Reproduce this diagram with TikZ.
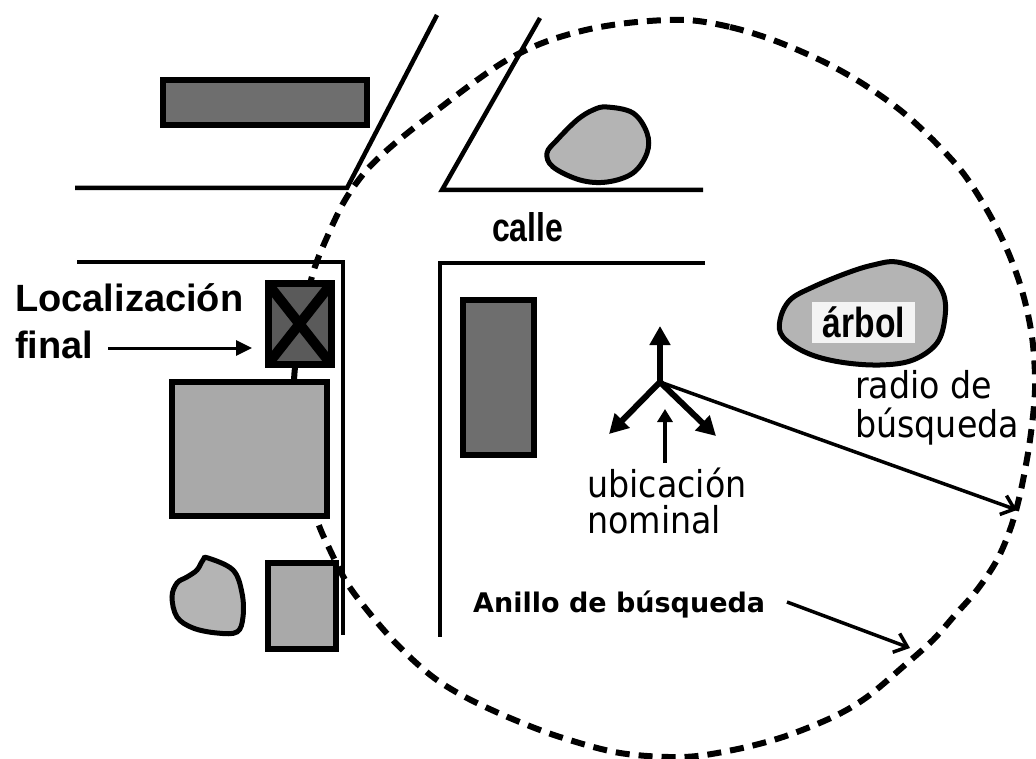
\documentclass[tikz,border=0pt]{standalone}
\usepackage{fontspec}
\setmainfont{Liberation Sans}
\newfontfamily\thinfont{DejaVu Sans}[FakeStretch=0.9]
\newfontfamily\condfont{Liberation Sans}[FakeStretch=0.8]
\newfontfamily\ringfont{DejaVu Sans}
\usetikzlibrary{arrows.meta}
\definecolor{darkbldg}{HTML}{6E6E6E}
\definecolor{lightbldg}{HTML}{A9A9A9}
\definecolor{treegray}{HTML}{B4B4B4}
\definecolor{xgray}{HTML}{5A5A5A}
\definecolor{labelbg}{HTML}{F4F4F4}
\tikzset{
  road/.style={line width=4.5pt, line join=miter},
  bldgdark/.style={fill=darkbldg, draw=black, line width=6pt},
  bldglight/.style={fill=lightbldg, draw=black, line width=6pt},
  treeblob/.style={fill=treegray, draw=black, line width=5pt},
  ring/.style={line width=6pt, dash pattern=on 14pt off 9pt},
  fatarrow/.style={line width=6pt, -{Triangle[length=19pt,width=20pt]}},
  smallarrow/.style={line width=4pt, -{Triangle[length=13pt,width=15pt]}},
  thinarrow/.style={line width=3.5pt, -{Straight Barb[length=12pt,width=20pt]}},
  ptrarrow/.style={line width=3pt, -{Triangle[length=16pt,width=15pt]}},
  lbl/.style={inner sep=0pt, anchor=base west},
}
\begin{document}
\begin{tikzpicture}[x=1pt,y=-1pt]
\useasboundingbox[fill=white] (0,0) rectangle (1036,759);

% search ring (drawn first, buildings cover it)
\draw[ring] plot[smooth cycle, tension=0.55] coordinates {
 (687,20) (730,27) (773,40) (820,60) (860,82) (900,110) (933,140) (963,173)
 (987,210) (1005,245) (1018,278) (1027,310) (1033,345) (1035,390) (1030,440)
 (1021,490) (1011,527) (997,560) (977,590) (955,615) (933,640) (905,665)
 (867,697) (833,717) (783,737) (733,750) (683,757) (620,753) (560,737)
 (510,718) (467,698) (437,680) (413,660) (390,637) (367,610) (347,583)
 (330,550) (317,520) (303,470) (295,420) (294,380) (300,330) (313,273)
 (328,235) (345,200) (365,172) (385,152) (410,131) (440,108) (473,83)
 (507,60) (545,42) (590,29) (637,22)};

% streets
\draw[road] (437,15) -- (347,188) -- (75,188);
\draw[road] (77,262) -- (343,262) -- (343,635);
\draw[road] (540,18) -- (442,190) -- (703,190);
\draw[road] (705,263) -- (440,263) -- (440,637);

% buildings
\draw[bldgdark] (163,80) rectangle (367,125);
\draw[bldgdark] (463,300) rectangle (534,455);
\draw[bldglight] (172,382) rectangle (327,516);
\draw[bldglight] (268,563) rectangle (336,649);

% final location box with X
\fill[xgray] (268,284) rectangle (331,364);
\begin{scope}
  \clip (268,284) rectangle (331,364);
  \draw[line width=10pt] (268,284) -- (331,364) (331,284) -- (268,364);
\end{scope}
\draw[line width=7pt] (268,284) rectangle (331,364);

% trees
\draw[treeblob] plot[smooth cycle, tension=0.6] coordinates {
 (607,107) (633,113) (647,133) (647,153) (633,173) (607,182) (580,180)
 (553,167) (547,153) (557,140) (577,120) (593,110)};
\draw[treeblob] plot[smooth cycle, tension=0.6] coordinates {
 (208,558) (233,570) (242,593) (243,617) (237,632) (217,633) (193,628)
 (177,617) (172,597) (177,583) (187,577) (197,570) (203,560)};
\draw[treeblob] plot[smooth cycle, tension=0.6] coordinates {
 (897,262) (927,273) (943,293) (945,317) (937,343) (913,360) (880,365)
 (840,362) (807,353) (783,337) (780,320) (790,300) (813,287) (847,273)
 (873,265)};
\fill[labelbg] (812,302) rectangle (915,343);
\node[inner sep=0pt, font=\condfont\bfseries\fontsize{42}{42}\selectfont] (arbol) at (864,322) {árbol};

% labels
\node[lbl, font=\condfont\bfseries\fontsize{40}{40}\selectfont] (calle) at (492,242) {calle};
\node[lbl, font=\bfseries\fontsize{38}{38}\selectfont] (loc) at (15,312) {Localización};
\node[lbl, font=\bfseries\fontsize{38}{38}\selectfont] (final) at (15,358) {final};
\node[lbl, font=\thinfont\fontsize{37}{37}\selectfont] (ubic) at (587,497) {ubicación};
\node[lbl, font=\thinfont\fontsize{37}{37}\selectfont] (nomi) at (587,533) {nominal};
\node[lbl, font=\thinfont\fontsize{37}{37}\selectfont] (radio) at (855,398) {radio de};
\node[lbl, font=\thinfont\fontsize{37}{37}\selectfont] (busq) at (855,437) {búsqueda};
\node[lbl, font=\ringfont\bfseries\fontsize{27}{27}\selectfont] (anillo) at (473,612) {Anillo de búsqueda};

% nominal location arrows
\coordinate (ctr) at (660,382);
\coordinate (upt) at (660,326);
\coordinate (ldt) at (609,434);
\coordinate (rdt) at (716,436);
\coordinate (ubase) at (665,463);
\coordinate (utip) at (665,409);
\coordinate (rtip) at (1017,510);
\coordinate (ringpt) at (910,648);
\coordinate (anillostart) at (787,602);
\coordinate (finalstart) at (108,348);
\coordinate (xbox) at (252,348);

\draw[fatarrow] (ctr) -- (upt);
\draw[fatarrow] (ctr) -- (ldt);
\draw[fatarrow] (ctr) -- (rdt);
\draw[smallarrow] (ubase) -- (utip);
\draw[thinarrow] (ctr) -- (rtip);
\draw[thinarrow] (anillostart) -- (ringpt);
\draw[ptrarrow] (finalstart) -- (xbox);
\end{tikzpicture}
\end{document}
